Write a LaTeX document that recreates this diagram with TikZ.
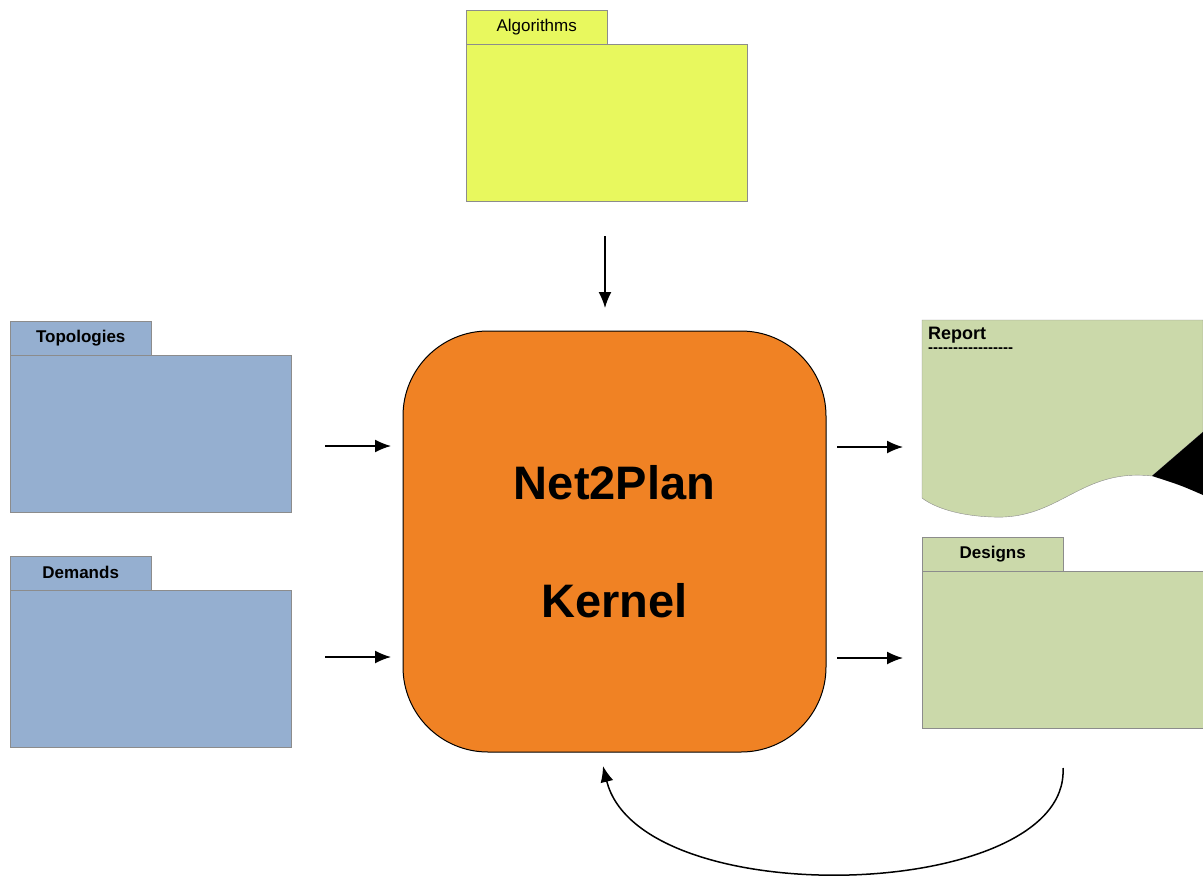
\documentclass[tikz,border=0pt]{standalone}
\usepackage{fontspec}
\setmainfont{Liberation Sans}
\usetikzlibrary{arrows.meta}
\definecolor{algofill}{HTML}{E8F85E}
\definecolor{inputfill}{HTML}{95AFD0}
\definecolor{outputfill}{HTML}{CBD9AA}
\definecolor{kernelfill}{HTML}{F08224}
\definecolor{folderline}{HTML}{8C8C8C}
\tikzset{
  body/.style={draw=folderline, anchor=north west, inner sep=0pt,
    minimum width=281pt, minimum height=157pt},
  tab/.style={draw=folderline, anchor=south west, inner sep=0pt,
    minimum width=141pt, minimum height=34pt, font=\fontsize{17}{20}\selectfont},
  flow/.style={-{Latex[length=16pt,width=13pt]}, line width=1.5pt},
}
\begin{document}
\begin{tikzpicture}[x=1pt, y=-1pt]
      \useasboundingbox (0,0) rectangle (1203,879);
      \node[body, fill=algofill] (algo) at (466,44) {};
      \node[tab, fill=algofill] (algotab) at (algo.north west) {Algorithms};
      \node[body, fill=inputfill] (topo) at (10,355) {};
      \node[tab, fill=inputfill, font=\fontsize{17}{20}\bfseries] (topotab) at (topo.north west) {Topologies};
      \node[body, fill=inputfill] (dem) at (10,590) {};
      \node[tab, fill=inputfill, font=\fontsize{17}{20}\bfseries] (demtab) at (dem.north west) {Demands};
      \node[body, fill=outputfill] (des) at (922,571) {};
      \node[tab, fill=outputfill, font=\fontsize{17}{20}\bfseries] (destab) at (des.north west) {Designs};
      \node[draw, line width=1pt, fill=kernelfill, rounded corners=85pt,
        minimum width=423pt, minimum height=421pt, align=center,
        font=\fontsize{47}{56}\bfseries] (kernel) at (614.5,541.5) {Net2Plan\\[62pt]Kernel};
      \draw[folderline, fill=outputfill] (922,320) -- (1203,320) -- (1203,432) -- (1152,476)
        .. controls (1080,468) and (1060,520) .. (993,517)
        .. controls (960,516) and (935,508) .. (922,498) -- cycle;
      \fill (1152,476) -- (1203,432) -- (1203,495) .. controls (1180,485) .. (1152,476) -- cycle;
      \node[anchor=north west, inner sep=0pt, font=\fontsize{18}{20}\bfseries] (report) at (928,327) {Report};
      \node[anchor=north west, inner sep=0pt, font=\fontsize{15}{16}\bfseries] (reportline) at (928,348)
        {-{}-{}-{}-{}-{}-{}-{}-{}-{}-{}-{}-{}-{}-{}-{}-{}-};
      \coordinate (a1) at (605,236);
      \coordinate (a2) at (605,308);
      \coordinate (t1) at (325,446);
      \coordinate (t2) at (391,446);
      \coordinate (d1) at (325,657);
      \coordinate (d2) at (391,657);
      \coordinate (r1) at (837,447);
      \coordinate (r2) at (903,447);
      \coordinate (g1) at (837,658);
      \coordinate (g2) at (903,658);
      \coordinate (loopstart) at (1063,768);
      \coordinate (loopend) at (603,766);
      \begin{scope}[flow]
        \draw (a1) -- (a2);
        \draw (t1) -- (t2);
        \draw (d1) -- (d2);
        \draw (r1) -- (r2);
        \draw (g1) -- (g2);
        \draw (loopstart) .. controls (1070,902) and (640,915) .. (loopend);
      \end{scope}
    \end{tikzpicture}
\end{document}
